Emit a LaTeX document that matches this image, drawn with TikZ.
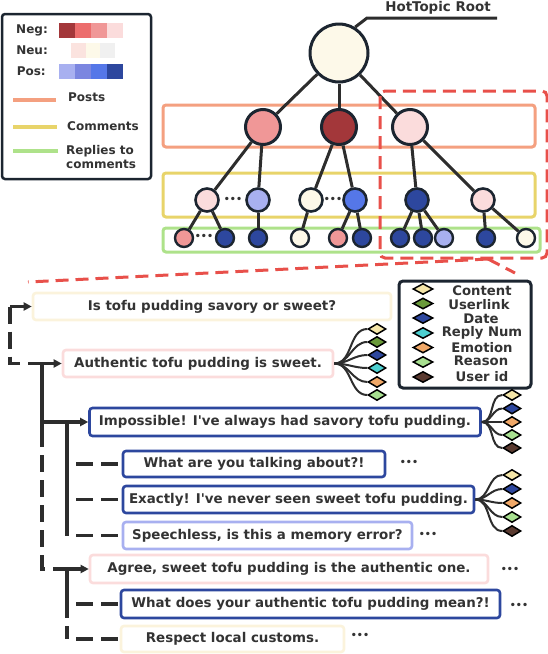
\documentclass[tikz,border=0pt]{standalone}
\usepackage{fontspec}
\setmainfont{DejaVu Sans}[Ligatures=TeXOff]
\usetikzlibrary{shapes.geometric,arrows.meta}
\definecolor{txt}{HTML}{333333}
\definecolor{edgec}{HTML}{2D2D2D}
\definecolor{bord}{HTML}{1C2530}
\definecolor{negA}{HTML}{A3373A}
\definecolor{negB}{HTML}{EC6D6D}
\definecolor{negC}{HTML}{F09797}
\definecolor{negD}{HTML}{FBDCDC}
\definecolor{neuA}{HTML}{FBE3DF}
\definecolor{neuB}{HTML}{FDF9E9}
\definecolor{neuC}{HTML}{F0F0F0}
\definecolor{posA}{HTML}{A8B0F0}
\definecolor{posB}{HTML}{7B86E0}
\definecolor{posC}{HTML}{5577E8}
\definecolor{posD}{HTML}{2D479E}
\definecolor{postc}{HTML}{F4A080}
\definecolor{commc}{HTML}{E8D46A}
\definecolor{replc}{HTML}{AEE28A}
\definecolor{redd}{HTML}{E8504A}
\definecolor{creamb}{HTML}{FBF3DC}
\definecolor{dContent}{HTML}{F5E6A8}
\definecolor{dUser}{HTML}{6A9A3A}
\definecolor{dDate}{HTML}{2D479E}
\definecolor{dReply}{HTML}{4CCFD0}
\definecolor{dEmo}{HTML}{F0A868}
\definecolor{dReason}{HTML}{A8E090}
\definecolor{dUid}{HTML}{5A3A30}
\begin{document}
\begin{tikzpicture}[x=1pt,y=-1pt,
  lbl/.style={font=\fontsize{13.4}{14}\selectfont\bfseries, text=txt, inner sep=0pt},
  leglbl/.style={font=\fontsize{12}{14}\selectfont\bfseries, text=txt, inner sep=0pt},
  dlbl/.style={font=\fontsize{13.2}{14}\selectfont\bfseries, text=txt, inner sep=0pt},
  circA/.style={circle, draw=bord, line width=3pt, minimum size=58pt, inner sep=0pt},
  circB/.style={circle, draw=bord, line width=3pt, minimum size=35pt, inner sep=0pt},
  circC/.style={circle, draw=bord, line width=2.6pt, minimum size=23pt, inner sep=0pt},
  circD/.style={circle, draw=bord, line width=2.4pt, minimum size=18pt, inner sep=0pt},
  tedge/.style={draw=edgec, line width=3pt},
  layerbox/.style={line width=3pt, rounded corners=3pt},
  swatch/.style={rectangle, minimum width=15.5pt, minimum height=15pt, inner sep=0pt},
  tbox/.style={draw, line width=2.6pt, rounded corners=3pt, fill=white, inner sep=0pt,
     minimum height=27pt, font=\fontsize{13.4}{14}\selectfont\bfseries, text=txt},
  dmd/.style={diamond, draw=black, line width=1.5pt, minimum width=18pt, minimum height=11pt, inner sep=0pt},
  fan/.style={draw=edgec, line width=2pt},
  conn/.style={draw=edgec, line width=3.2pt},
  dconn/.style={draw=edgec, line width=3.2pt, dash pattern=on 17pt off 8pt},
  arr/.style={draw=edgec, line width=3.2pt, -{Triangle[length=8pt,width=8pt]}},
  dots/.style={font=\fontsize{9.5}{9.5}\selectfont\bfseries, text=txt, inner sep=0pt}
]
\useasboundingbox (0,0) rectangle (548,654);

% ---------------- Legend (top-left) ----------------
\draw[draw=bord, line width=2.5pt, rounded corners=3pt, fill=white] (2,14) rectangle (151,179);
\node[leglbl, anchor=east] (negl) at (48,30) {Neg:};
\node[leglbl, anchor=east] (neul) at (48,50) {Neu:};
\node[leglbl, anchor=east] (posl) at (46,71) {Pos:};
\node[swatch, fill=negA] (sn1) at (67,30) {};
\node[swatch, fill=negB] (sn2) at (83,30) {};
\node[swatch, fill=negC] (sn3) at (99,30) {};
\node[swatch, fill=negD] (sn4) at (115,30) {};
\node[swatch, fill=neuA, minimum width=14.5pt] (su1) at (78.5,50) {};
\node[swatch, fill=neuB, minimum width=14.5pt] (su2) at (93,50) {};
\node[swatch, fill=neuC, minimum width=14.5pt] (su3) at (107.5,50) {};
\node[swatch, fill=posA] (sp1) at (67,71.5) {};
\node[swatch, fill=posB] (sp2) at (83,71.5) {};
\node[swatch, fill=posC] (sp3) at (99,71.5) {};
\node[swatch, fill=posD] (sp4) at (115,71.5) {};
\coordinate (lp1) at (13,100); \coordinate (lp2) at (56,100);
\coordinate (lc1) at (13,127); \coordinate (lc2) at (57,127);
\coordinate (lr1) at (13,151); \coordinate (lr2) at (58,151);
\draw[draw=postc, line width=3.5pt] (lp1) -- (lp2);
\draw[draw=commc, line width=3.5pt] (lc1) -- (lc2);
\draw[draw=replc, line width=3.5pt] (lr1) -- (lr2);
\node[leglbl, anchor=west] (postsl) at (68,97) {Posts};
\node[leglbl, anchor=west] (comml) at (67,126) {Comments};
\node[leglbl, anchor=west, align=left] (repll) at (66,157.5) {Replies to\\comments};

% ---------------- Layer boxes ----------------
\draw[layerbox, draw=postc] (163,105) rectangle (535,147);
\draw[layerbox, draw=commc] (163,173) rectangle (535,217);
\draw[layerbox, draw=replc] (163,228) rectangle (540,252);

% ---------------- Tree ----------------
\node[circA, fill=neuB] (root) at (339,53) {};
\node[circB, fill=negC] (p1) at (263,127) {};
\node[circB, fill=negA] (p2) at (339,127) {};
\node[circB, fill=negD] (p3) at (410,127) {};
\node[circC, fill=negD] (c1) at (207,200) {};
\node[circC, fill=posA] (c2) at (258,200) {};
\node[circC, fill=neuB] (c3) at (311,200) {};
\node[circC, fill=posC] (c4) at (355,200) {};
\node[circC, fill=posD] (c5) at (417,200) {};
\node[circC, fill=negD] (c6) at (483,200) {};
\node[circD, fill=negC] (r1) at (184,238) {};
\node[circD, fill=posD] (r2) at (225,238) {};
\node[circD, fill=posD] (r3) at (258,238) {};
\node[circD, fill=neuB] (r4) at (300,238) {};
\node[circD, fill=negC] (r5) at (338,238) {};
\node[circD, fill=posD] (r6) at (362,238) {};
\node[circD, fill=posD] (r7) at (400,238) {};
\node[circD, fill=posD] (r8) at (423,238) {};
\node[circD, fill=posA] (r9) at (444,238) {};
\node[circD, fill=posD] (r10) at (486,238) {};
\node[circD, fill=neuB] (r11) at (526,238) {};
\foreach \a/\b in {root/p1,root/p2,root/p3,p1/c1,p1/c2,p2/c3,p2/c4,p3/c5,p3/c6,
  c1/r1,c1/r2,c2/r3,c3/r4,c4/r5,c4/r6,c5/r7,c5/r8,c5/r9,c6/r10,c6/r11}
  \draw[tedge] (\a) -- (\b);
\node[dots] (td1) at (233,200) {•••};
\node[dots] (td2) at (333,200) {•••};
\node[dots] (td3) at (204,237) {•••};

% HotTopic Root label
\node[lbl] (htr) at (438,8) {HotTopic Root};
\coordinate (h1) at (367,18);
\coordinate (h2) at (497,18);
\draw[tedge] (root.58) -- (h1) -- (h2);

% red dashed focus frame and callout
\draw[draw=redd, line width=3pt, dash pattern=on 13pt off 7pt, rounded corners=5pt]
  (380,91) rectangle (547,258);
\coordinate (cf) at (488,259);
\coordinate (cl) at (28,282);
\coordinate (cr) at (515,273);
\draw[draw=redd, line width=3pt, dash pattern=on 13pt off 7pt] (cf) -- (cl);
\draw[draw=redd, line width=3pt, dash pattern=on 13pt off 7pt] (cf) -- (cr);

% ---------------- Attribute legend ----------------
\draw[draw=bord, line width=3pt, rounded corners=4pt, fill=white] (399,281) rectangle (531,388);
\node[dmd, fill=dContent, minimum width=20pt] (lg1) at (423,289) {};
\node[dmd, fill=dUser, minimum width=20pt] (lg2) at (423,303.5) {};
\node[dmd, fill=dDate, minimum width=20pt] (lg3) at (423,318) {};
\node[dmd, fill=dReply, minimum width=20pt] (lg4) at (423,333) {};
\node[dmd, fill=dEmo, minimum width=20pt] (lg5) at (423,347.5) {};
\node[dmd, fill=dReason, minimum width=20pt] (lg6) at (423,362) {};
\node[dmd, fill=dUid, minimum width=20pt] (lg7) at (423,377) {};
\node[dlbl] (lt1) at (482,291) {Content};
\node[dlbl] (lt2) at (479,304.5) {Userlink};
\node[dlbl] (lt3) at (481,318.5) {Date};
\node[dlbl] (lt4) at (482,332.5) {Reply Num};
\node[dlbl] (lt5) at (482,347.5) {Emotion};
\node[dlbl] (lt6) at (481,361) {Reason};
\node[dlbl] (lt7) at (482,377) {User id};

% ---------------- Thread boxes ----------------
\node[tbox, draw=creamb, minimum width=358pt] (q0) at (212,306.5) {Is tofu pudding savory or sweet?};
\node[tbox, draw=negD, minimum width=270pt] (q1) at (198,363.5) {Authentic tofu pudding is sweet.};
\node[tbox, draw=posD, minimum width=391pt, minimum height=28pt] (q2) at (285,422) {Impossible! I've always had savory tofu pudding.};
\node[tbox, draw=posD, minimum width=262pt, minimum height=26pt] (q3) at (254,464) {What are you talking about?!};
\node[tbox, draw=posD, minimum width=351pt] (q4) at (298.5,499.5) {Exactly! I've never seen sweet tofu pudding.};
\node[tbox, draw=posA, minimum width=289pt] (q5) at (267.5,535.5) {Speechless, is this a memory error?};
\node[tbox, draw=negD, minimum width=398pt, minimum height=28pt] (q6) at (289,569) {Agree, sweet tofu pudding is the authentic one.};
\node[tbox, draw=posD, minimum width=379pt, minimum height=28pt] (q7) at (310.5,604) {What does your authentic tofu pudding mean?!};
\node[tbox, draw=creamb, minimum width=223pt, minimum height=26pt] (q8) at (232.5,639) {Respect local customs.};

\node[dots] (d3) at (409,463) {•••};
\node[dots] (d5) at (428,535) {•••};
\node[dots] (d6) at (510,570) {•••};
\node[dots] (d7) at (519,606) {•••};
\node[dots] (d8) at (360,636) {•••};

% ---------------- Thread connectors ----------------
\coordinate (v0t) at (10,306.5);
\coordinate (v0b) at (10,363.5);
\coordinate (v1t) at (42,363.5);
\coordinate (v1s) at (42,430);
\coordinate (v1m) at (42,422);
\coordinate (v1b) at (42,569);
\coordinate (v2t) at (67,422);
\coordinate (v2a) at (67,464);
\coordinate (v2b) at (67,499.5);
\coordinate (v2c) at (67,535.5);
\coordinate (v3t) at (67,569);
\coordinate (v3s) at (67,618);
\coordinate (v3a) at (67,604);
\coordinate (v3b) at (67,639);
\draw[arr] (v0t) -- (q0.west);
\draw[dconn] (v0t) -- (v0b) -- (v1t);
\draw[arr] (v1t) -- (q1.west);
\draw[conn] (v1t) -- (v1s);
\draw[dconn] (v1s) -- (v1b) -- (v3t);
\draw[conn] (v1m) -- (v2t);
\draw[arr] (v2t) -- (q2.west);
\draw[conn] (v2t) -- (v2c);
\draw[dconn, shorten <=9pt] (v2a) -- (q3.west);
\draw[dconn, shorten <=9pt] (v2b) -- (q4.west);
\draw[dconn, shorten <=9pt] (v2c) -- (q5.west);
\draw[arr] (v3t) -- (q6.west);
\draw[conn] (v3t) -- (v3s);
\draw[dconn, shorten <=8pt] (v3s) -- (v3b);
\draw[dconn, shorten <=9pt] (v3a) -- (q7.west);
\draw[dconn, shorten <=9pt] (v3b) -- (q8.west);

% ---------------- Attribute fans ----------------
\node[dmd, fill=dContent] (f1a) at (377,329) {};
\node[dmd, fill=dUser] (f1b) at (377,342) {};
\node[dmd, fill=dDate] (f1c) at (377,355) {};
\node[dmd, fill=dReply] (f1d) at (377,368) {};
\node[dmd, fill=dEmo] (f1e) at (377,382) {};
\node[dmd, fill=dReason] (f1f) at (377,395) {};
\foreach \d in {f1a,f1b,f1c,f1d,f1e,f1f}
  \draw[fan] (q1.east) to[out=0,in=180] (\d.west);

\node[dmd, fill=dContent] (f2a) at (512,395) {};
\node[dmd, fill=dDate] (f2b) at (512,408.5) {};
\node[dmd, fill=dEmo] (f2c) at (512,422) {};
\node[dmd, fill=dReason] (f2d) at (512,435) {};
\node[dmd, fill=dUid] (f2e) at (512,448) {};
\foreach \d in {f2a,f2b,f2c,f2d,f2e}
  \draw[fan] (q2.east) to[out=0,in=180] (\d.west);

\node[dmd, fill=dContent] (f3a) at (512,475) {};
\node[dmd, fill=dDate] (f3b) at (512,489) {};
\node[dmd, fill=dEmo] (f3c) at (512,503) {};
\node[dmd, fill=dReason] (f3d) at (512,517) {};
\node[dmd, fill=dUid] (f3e) at (512,531) {};
\foreach \d in {f3a,f3b,f3c,f3d,f3e}
  \draw[fan] (q4.east) to[out=0,in=180] (\d.west);
\end{tikzpicture}
\end{document}
